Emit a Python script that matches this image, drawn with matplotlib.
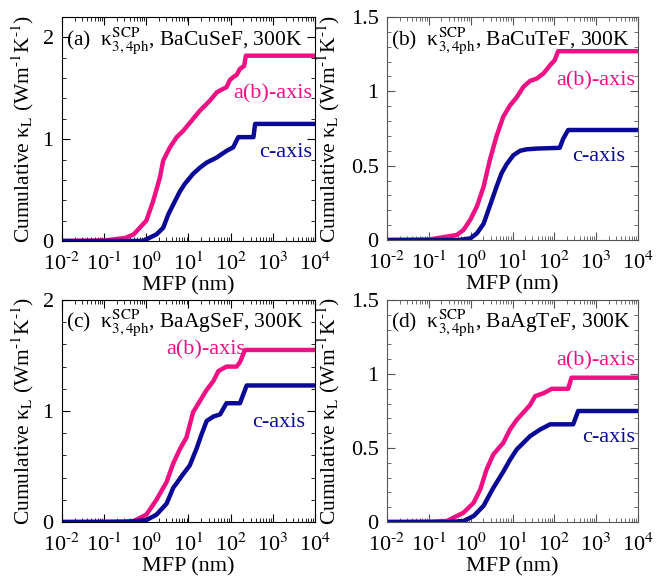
import matplotlib
matplotlib.use("Agg")
import matplotlib.pyplot as plt
import numpy as np
from matplotlib.ticker import MultipleLocator, LogLocator, NullFormatter

plt.rcParams['font.family'] = ['Liberation Serif', 'DejaVu Serif']
plt.rcParams['mathtext.fontset'] = 'stix'
plt.rcParams['font.size'] = 16

PINK = '#EE1183'
NAVY = '#0A0A96'

# log10(MFP / nm) and cumulative kappa values
# (a) BaCuSeF
a_ab_logx = [-2, -1, -0.5, -0.3, 0.0, 0.16, 0.32, 0.40, 0.56, 0.72, 0.87, 1.03, 1.27, 1.51,
             1.67, 1.80, 1.90, 1.98, 2.06, 2.14, 2.22, 2.32, 2.36, 4]
a_ab_k = [0, 0.005, 0.03, 0.065, 0.2, 0.39, 0.62, 0.79, 0.92, 1.02, 1.08, 1.16, 1.28, 1.38,
          1.46, 1.49, 1.51, 1.58, 1.61, 1.63, 1.69, 1.72, 1.82, 1.82]
a_c_logx = [-2, -0.08, 0.24, 0.40, 0.52, 0.64, 0.80, 0.91, 1.11, 1.27, 1.43, 1.67, 1.90,
            2.06, 2.18, 2.54, 2.58, 4]
a_c_k = [0, 0, 0.065, 0.13, 0.26, 0.36, 0.49, 0.56, 0.66, 0.72, 0.77, 0.82, 0.885,
         0.92, 1.02, 1.02, 1.15, 1.15]

# (b) BaCuTeF
b_ab_logx = [-2, -1, -0.33, -0.17, -0.01, 0.15, 0.31, 0.46, 0.62, 0.78, 0.94, 1.10, 1.26,
             1.42, 1.58, 1.74, 1.90, 2.01, 2.09, 4]
b_ab_k = [0, 0.003, 0.034, 0.068, 0.136, 0.226, 0.36, 0.54, 0.70, 0.83, 0.905, 0.96, 1.03,
          1.07, 1.086, 1.12, 1.176, 1.21, 1.27, 1.27]
b_c_logx = [-2, -0.3, -0.01, 0.15, 0.31, 0.46, 0.62, 0.74, 0.86, 1.02, 1.18, 1.34, 1.58,
            2.13, 2.21, 2.33, 4]
b_c_k = [0, 0, 0.01, 0.045, 0.11, 0.23, 0.36, 0.45, 0.51, 0.57, 0.60, 0.61, 0.615,
         0.62, 0.68, 0.74, 0.74]

# (c) BaAgSeF
c_ab_logx = [-2, -1, -0.31, 0.0, 0.24, 0.48, 0.64, 0.80, 0.95, 1.11, 1.27, 1.43, 1.59,
             1.71, 1.90, 2.14, 2.22, 2.34, 4]
c_ab_k = [0, 0.002, 0.007, 0.066, 0.2, 0.36, 0.53, 0.66, 0.76, 0.99, 1.09, 1.19, 1.27,
          1.36, 1.40, 1.40, 1.44, 1.55, 1.55]
c_c_logx = [-2, -0.5, 0.0, 0.24, 0.48, 0.64, 0.72, 0.87, 1.03, 1.19, 1.31, 1.43, 1.59,
            1.75, 1.90, 2.22, 2.38, 4]
c_c_k = [0, 0, 0.017, 0.066, 0.165, 0.31, 0.35, 0.43, 0.51, 0.66, 0.79, 0.91, 0.95,
         0.97, 1.07, 1.07, 1.23, 1.23]

# (d) BaAgTeF
d_ab_logx = [-2, -1, -0.57, -0.17, 0.07, 0.23, 0.38, 0.54, 0.78, 0.94, 1.10, 1.26, 1.42,
             1.54, 1.74, 1.94, 2.33, 2.41, 4]
d_ab_k = [0, 0.002, 0.007, 0.063, 0.13, 0.22, 0.355, 0.456, 0.535, 0.625, 0.69, 0.74, 0.79,
          0.85, 0.87, 0.90, 0.90, 0.975, 0.975]
d_c_logx = [-2, -0.5, -0.17, 0.07, 0.31, 0.54, 0.78, 0.94, 1.10, 1.26, 1.42, 1.66, 1.90,
            2.45, 2.57, 4]
d_c_k = [0, 0, 0.007, 0.04, 0.11, 0.23, 0.34, 0.42, 0.49, 0.535, 0.58, 0.625, 0.66,
         0.66, 0.75, 0.75]

panel_tags = ['(a)', '(b)', '(c)', '(d)']
compounds = ['BaCuSeF', 'BaCuTeF', 'BaAgSeF', 'BaAgTeF']
ab_curves = [(a_ab_logx, a_ab_k), (b_ab_logx, b_ab_k), (c_ab_logx, c_ab_k), (d_ab_logx, d_ab_k)]
c_curves = [(a_c_logx, a_c_k), (b_c_logx, b_c_k), (c_c_logx, c_c_k), (d_c_logx, d_c_k)]
ylims = [2.2, 1.5, 2.0, 1.5]
yminor = [0.2, 0.1, 0.2, 0.1]
yticks = [[0, 1, 2], [0, 0.5, 1, 1.5], [0, 1, 2], [0, 0.5, 1, 1.5]]
yticklabels = [['0', '1', '2'], ['0', '0.5', '1', '1.5'], ['0', '1', '2'], ['0', '0.5', '1', '1.5']]
# label placement (axes-x, data-y, ha)
ab_text = [(0.99, 1.45, 'right'), (0.99, 1.07, 'right'), (0.57, 1.55, 'center'), (0.99, 1.09, 'right')]
c_text = [(0.99, 0.87, 'right'), (0.95, 0.56, 'right'), (0.96, 0.90, 'right'), (0.99, 0.57, 'right')]

W, H = 665, 585
fig = plt.figure(figsize=(W / 100, H / 100), dpi=100)
boxes = [(62, 17, 253, 224), (387, 17, 251, 223), (62, 300, 253, 222), (387, 300, 251, 222)]

HY = '\u2010'  # short hyphen, as in the original superscripts
xticks = [1e-2, 1e-1, 1e0, 1e1, 1e2, 1e3, 1e4]
xticklabels = ['10$^{\\rm ' + HY + '2}$', '10$^{\\rm ' + HY + '1}$', '10$^{\\rm 0}$', '10$^{\\rm 1}$',
               '10$^{\\rm 2}$', '10$^{\\rm 3}$', '10$^{\\rm 4}$']
ylab = 'Cumulative κ$_{\\rm L}$ (Wm$^{\\rm ' + HY + '1}$K$^{\\rm ' + HY + '1}$)'

for i in range(4):
    x0, y0, w, h = boxes[i]
    ax = fig.add_axes([x0 / W, 1 - (y0 + h) / H, w / W, h / H])
    lx, k = ab_curves[i]
    ax.plot(10 ** np.array(lx), k, color=PINK, lw=3.2, solid_joinstyle='round')
    lx, k = c_curves[i]
    ax.plot(10 ** np.array(lx), k, color=NAVY, lw=3.2, solid_joinstyle='round')

    ax.set_xscale('log')
    ax.set_xlim(1e-2, 1e4)
    ax.set_ylim(0, ylims[i])
    ax.set_xticks(xticks)
    ax.set_xticklabels(xticklabels)
    ax.xaxis.set_minor_locator(LogLocator(base=10, subs=np.arange(2, 10), numticks=20))
    ax.xaxis.set_minor_formatter(NullFormatter())
    ax.set_yticks(yticks[i])
    ax.set_yticklabels(yticklabels[i])
    ax.yaxis.set_minor_locator(MultipleLocator(yminor[i]))
    ax.tick_params(which='both', direction='in', top=True, right=True, labelsize=16)
    ax.tick_params(axis='x', pad=8)
    ax.tick_params(axis='y', pad=6)
    ax.tick_params(which='major', length=6)
    ax.tick_params(which='minor', length=3)
    if i % 2 == 1:
        for s in ax.spines.values():
            s.set_color('#555555')
        ax.tick_params(which='both', color='#555555')

    ax.set_xlabel('MFP (nm)', fontsize=16, labelpad=1)
    ax.set_ylabel(ylab, fontsize=15.5)
    if i % 2 == 0:
        ax.yaxis.set_label_coords(-0.103, 0.5)
    else:
        ax.yaxis.set_label_coords(-0.18, 0.5)

    ax.text(0.015, 0.965, panel_tags[i] + '  κ$^{\\rm SCP}_{\\rm 3,4ph}$, ' + compounds[i] + ', 300K',
            transform=ax.transAxes, ha='left', va='top', fontsize=15.5)
    tx, ty, ha = ab_text[i]
    ax.text(tx, ty, 'a(b)-axis', color=PINK, transform=ax.get_yaxis_transform(),
            ha=ha, va='center', fontsize=16)
    tx, ty, ha = c_text[i]
    ax.text(tx, ty, 'c-axis', color=NAVY, transform=ax.get_yaxis_transform(),
            ha=ha, va='center', fontsize=16)

fig.savefig('out.png', dpi=100)
